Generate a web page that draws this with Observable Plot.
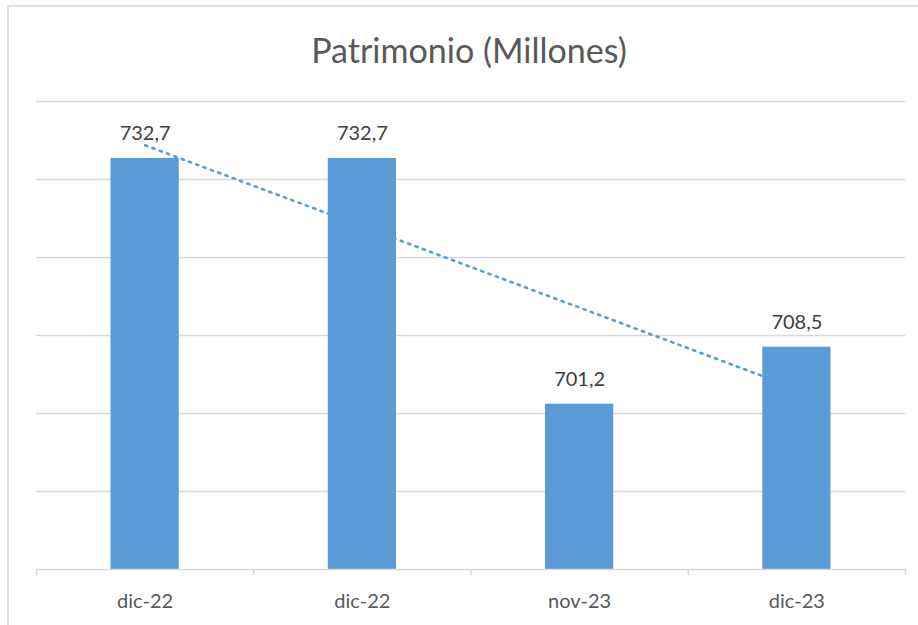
<!DOCTYPE html>
<html>
<head>
<meta charset="utf-8">
<script src="https://cdn.jsdelivr.net/npm/d3@7"></script>
<script src="https://cdn.jsdelivr.net/npm/@observablehq/plot@0.6"></script>
<style>
  html, body { margin: 0; padding: 0; background: #fff; overflow: hidden; }
  #wrap { position: relative; width: 918px; height: 625px; overflow: hidden; font-family: Lato, "Open Sans", sans-serif; }
  #border { position: absolute; left: 7px; top: 5px; width: 2000px; height: 2000px; border: 2px solid #dedede; pointer-events: none; }
  #title { height: 80px; box-sizing: border-box; padding-top: 30px; line-height: 40px; font-size: 34px; color: #595959; text-align: center; padding-left: 20px; }
  svg { display: block; }
</style>
</head>
<body>
<div id="wrap">
  <div id="border"></div>
  <div id="title">Patrimonio (Millones)</div>
  <div id="chart"></div>
</div>
<script>
const categories = ["dic-22", "dic-22", "nov-23", "dic-23"];
const values = [732.7, 732.7, 701.2, 708.5];
const yTicks = [680, 690, 700, 710, 720, 730, 740];

const data = categories.map((c, i) => ({i, cat: c, value: values[i]}));
const boundaries = d3.range(categories.length + 1).map(k => k - 0.5);
const fmt = v => v.toFixed(1).replace(".", ",");
const half = 0.157;

const chart = Plot.plot({
  width: 918,
  height: 545,
  marginLeft: 36,
  marginRight: 13,
  marginTop: 21,
  marginBottom: 56,
  x: {domain: [boundaries[0], boundaries[boundaries.length - 1]], axis: null},
  y: {domain: [yTicks[0], yTicks[yTicks.length - 1]], axis: null},
  style: {fontFamily: "Lato, 'Open Sans', sans-serif", background: "transparent"},
  marks: [
    Plot.ruleY(yTicks.slice(1), {stroke: "#d9d9d9", strokeWidth: 1.3}),
    Plot.linearRegressionY(data, {x: "i", y: "value", ci: 0, stroke: "#5b9bd5", strokeWidth: 2.6, strokeDasharray: "2.2 5.6"}),
    Plot.rect(data, {x1: d => d.i - half, x2: d => d.i + half, y1: yTicks[0], y2: "value", fill: "#5b9bd5"}),
    Plot.ruleY([yTicks[0]], {stroke: "#d9d9d9", strokeWidth: 1.5}),
    Plot.axisX({ticks: boundaries, tickFormat: () => "", tickSize: 6, stroke: "#d9d9d9", strokeWidth: 1.5, label: null}),
    Plot.axisX({ticks: data.map(d => d.i), tickFormat: i => categories[i], tickSize: 0, tickPadding: 24, fontSize: 20, fill: "#595959", label: null}),
    Plot.text(data, {x: "i", y: "value", text: d => fmt(d.value), dy: -25, fontSize: 20, fill: "#404040"})
  ]
});
document.getElementById("chart").appendChild(chart);
</script>
</body>
</html>
